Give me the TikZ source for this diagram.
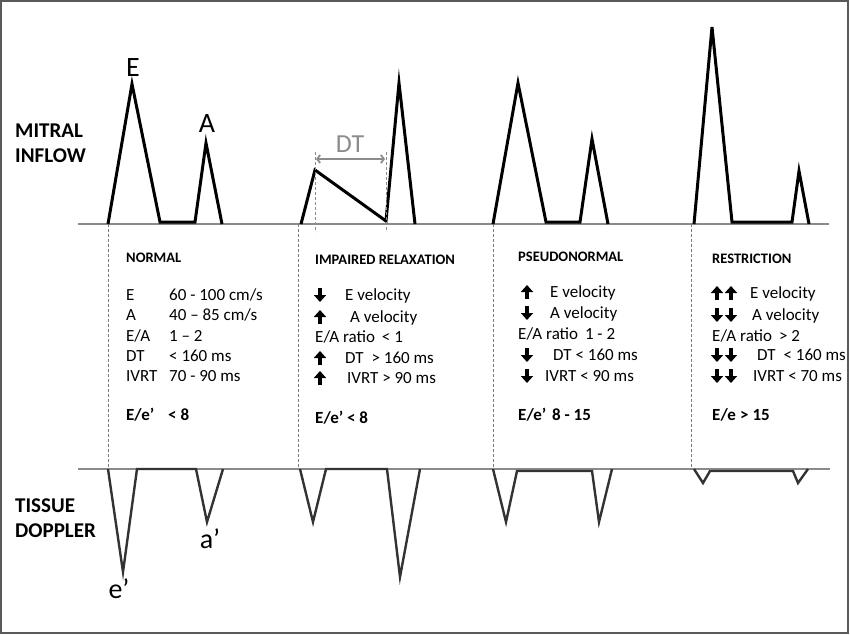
\documentclass[tikz,border=0pt]{standalone}
\usepackage{fontspec}
\setmainfont{Carlito}
\usetikzlibrary{arrows.meta}
\definecolor{baseg}{HTML}{8A8A8A}
\definecolor{sepg}{HTML}{7A7A7A}
\definecolor{tiss}{HTML}{333333}
\definecolor{frameg}{HTML}{5A5A5A}
\definecolor{dtg}{HTML}{8C8C8C}
\begin{document}
\begin{tikzpicture}[x=1pt,y=-1pt,
  baseln/.style={baseg, line width=1.2pt},
  wave/.style={black, line width=3pt},
  tissue/.style={tiss, line width=2.4pt},
  sepline/.style={sepg, line width=1pt, dash pattern=on 3pt off 2pt},
  body/.style={anchor=base west, inner sep=0pt, font=\fontsize{17}{20}\selectfont},
  bbody/.style={anchor=base west, inner sep=0pt, font=\bfseries\fontsize{17}{20}\selectfont},
  head/.style={anchor=base west, inner sep=0pt, font=\bfseries\fontsize{14.5}{16}\selectfont},
  side/.style={anchor=base west, inner sep=0pt, font=\bfseries\fontsize{21}{24}\selectfont},
  peaklbl/.style={anchor=base, inner sep=0pt, font=\fontsize{28}{30}\selectfont},
  uparr/.pic={\draw[line width=3.2pt,-{Triangle[width=12pt,length=7pt]}] (0,7)--(0,-7);},
  dnarr/.pic={\draw[line width=3.2pt,-{Triangle[width=12pt,length=7pt]}] (0,-7)--(0,7);}
]
\fill[white] (0,0) rectangle (850,634);
\useasboundingbox (0,0) rectangle (850,634);
\draw[frameg, line width=2pt] (1,1) rectangle (848,633);

% baselines
\draw[baseln] (78,224) -- (829,224);
\draw[baseln] (78,469) -- (830,469);

% separators
\foreach \x in {108,298,493,691} \draw[sepline] (\x,224) -- (\x,469);

% mitral inflow waves
\draw[wave] (108,224) -- (132,84) -- (160,222) -- (195,222) -- (206,143) -- (222,224);
\draw[wave] (301,224) -- (315,170) -- (386,221) -- (399,83) -- (415,224);
\draw[wave] (493,224) -- (518,83) -- (546,222) -- (580,222) -- (592,139) -- (608,224);
\draw[wave] (694,224) -- (712,27) -- (732,222) -- (792,222) -- (799,171) -- (809,224);

% DT
\draw[sepline, dtg] (315,152) -- (315,232);
\draw[sepline, dtg] (386,152) -- (386,232);
\draw[dtg, line width=1.8pt, {Straight Barb[length=3pt,width=8pt]}-{Straight Barb[length=3pt,width=8pt]}] (316,159) -- (385,159);
\node[peaklbl, dtg, font=\fontsize{26}{28}\selectfont] (dt) at (350,152) {DT};

% tissue doppler waves
\draw[tissue] (108,469) -- (123,572) -- (137,469) -- (196,469) -- (207,522) -- (223,469);
\draw[tissue] (300,469) -- (313,522) -- (326,469) -- (387,469) -- (400,577) -- (420,469);
\draw[tissue] (493,469) -- (506,522) -- (517,471) -- (592,471) -- (599,522) -- (612,469);
\draw[tissue] (694,469) -- (703,483) -- (710,471) -- (793,471) -- (798,483) -- (808,469);

% side labels
\node[side] (mi1) at (15,137) {MITRAL};
\node[side] (mi2) at (15,162) {INFLOW};
\node[side] (td1) at (15,512) {TISSUE};
\node[side] (td2) at (15,537) {DOPPLER};

% peak labels
\node[peaklbl] (lE) at (133,76) {E};
\node[peaklbl] (lA) at (207,132) {A};
\node[peaklbl] (le) at (119,598) {e’};
\node[peaklbl] (la) at (210,548) {a’};

% NORMAL
\node[head] (h1) at (126,262) {NORMAL};
\node[body] (n1) at (126,300) {E};
\node[body] (n2) at (126,320) {A};
\node[body] (n3) at (126,341) {E/A};
\node[body] (n4) at (126,361) {DT};
\node[body] (n5) at (126,381) {IVRT};
\node[body] (v1) at (169,300) {60 - 100 cm/s};
\node[body] (v2) at (169,320) {40 – 85 cm/s};
\node[body] (v3) at (169,341) {1 – 2};
\node[body] (v4) at (169,361) {< 160 ms};
\node[body] (v5) at (169,381) {70 - 90 ms};
\node[bbody] (n6) at (126,420) {E/e’};
\node[bbody] (v6) at (168,420) {< 8};

% IMPAIRED
\node[head] (h2) at (315,264) {IMPAIRED RELAXATION};
\pic at (320,295) {dnarr};
\pic at (320,317) {uparr};
\pic at (320,358) {uparr};
\pic at (320,378) {uparr};
\node[body] (i1) at (345,300) {E velocity};
\node[body] (i2) at (350,322) {A velocity};
\node[body] (i3) at (315,342) {E/A ratio\hspace{3pt} < 1};
\node[body] (i4) at (345,363) {DT\hspace{4pt} > 160 ms};
\node[body] (i5) at (347,383) {IVRT > 90 ms};
\node[bbody] (i6) at (315,423) {E/e’ < 8};

% PSEUDONORMAL
\node[head] (h3) at (518,261) {PSEUDONORMAL};
\pic at (527,292) {uparr};
\pic at (527,313) {dnarr};
\pic at (527,355) {dnarr};
\pic at (527,376) {dnarr};
\node[body] (p1) at (550,297) {E velocity};
\node[body] (p2) at (550,318) {A velocity};
\node[body] (p3) at (518,339) {E/A ratio\hspace{3pt} 1 - 2};
\node[body] (p4) at (553,360) {DT < 160 ms};
\node[body] (p5) at (545,381) {IVRT < 90 ms};
\node[bbody] (p6) at (518,420) {E/e’};
\node[bbody] (p7) at (552,420) {8 - 15};

% RESTRICTION
\node[head] (h4) at (712,263) {RESTRICTION};
\pic at (717,293) {uparr}; \pic at (731,293) {uparr};
\pic at (717,315) {dnarr}; \pic at (731,315) {dnarr};
\pic at (717,355) {dnarr}; \pic at (731,355) {dnarr};
\pic at (717,376) {dnarr}; \pic at (731,376) {dnarr};
\node[body] (r1) at (750,298) {E velocity};
\node[body] (r2) at (752,320) {A velocity};
\node[body] (r3) at (712,341) {E/A ratio\hspace{3pt} > 2};
\node[body] (r4) at (757,360) {DT\hspace{4pt} < 160 ms};
\node[body] (r5) at (753,381) {IVRT < 70 ms};
\node[bbody] (r6) at (712,420) {E/e};
\node[bbody] (r7) at (740,420) {> 15};
\end{tikzpicture}
\end{document}
